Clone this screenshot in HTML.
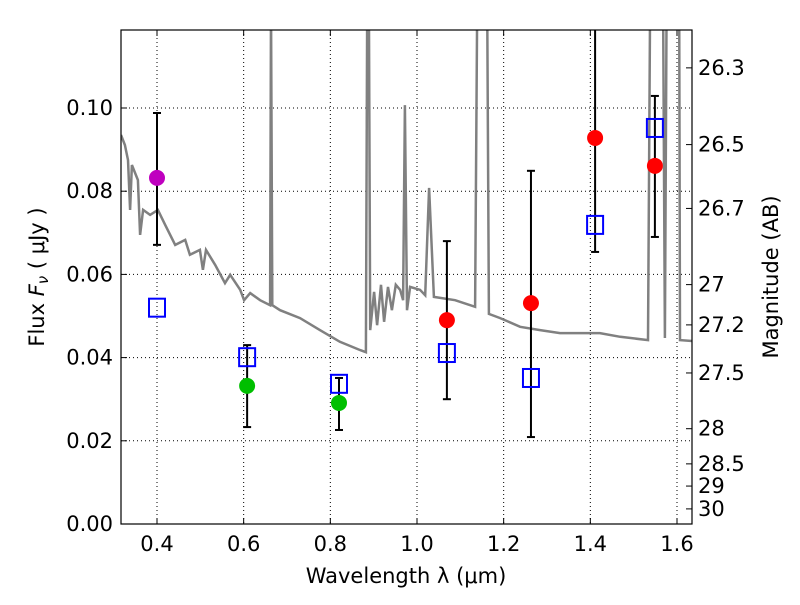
<!DOCTYPE html>
<html><head><meta charset="utf-8"><style>
body{margin:0;background:#fff;font-family:"Liberation Sans","DejaVu Sans",sans-serif}
svg text{font-family:"DejaVu Sans","Liberation Sans",sans-serif;font-size:21px;fill:#000}
</style></head><body>
<svg id="chart" width="800" height="600" xmlns="http://www.w3.org/2000/svg">
<defs><clipPath id="clip"><rect x="121" y="30" width="571" height="494"/></clipPath></defs>
<g id="grid"></g>
<g id="spec" clip-path="url(#clip)"></g>
<g id="pts"></g>
<rect x="121" y="30" width="571" height="494" fill="none" stroke="#000" stroke-width="1.2"/>
<g id="axes"></g>
<text x="406" y="583" text-anchor="middle">Wavelength  λ (μm)</text>
<text transform="translate(44,277) rotate(-90)" text-anchor="middle">Flux  <tspan font-style="italic">F</tspan><tspan font-style="italic" font-size="15" dy="4">ν</tspan><tspan dy="-4">  ( μJy )</tspan></text>
<text transform="translate(778,277) rotate(-90)" text-anchor="middle">Magnitude (AB)</text>
</svg>
<script>
const specLam=[0.317,0.326,0.333,0.338,0.342,0.356,0.361,0.368,0.384,0.402,0.419,0.442,0.465,0.476,0.499,0.506,0.513,0.534,0.557,0.569,0.592,0.601,0.615,0.638,0.661,0.663,0.666,0.684,0.730,0.776,0.822,0.869,0.882,0.885,0.889,0.892,0.901,0.908,0.917,0.924,0.933,0.942,0.951,0.961,0.968,0.972,0.977,0.984,1.007,1.019,1.028,1.039,1.088,1.134,1.139,1.162,1.166,1.192,1.238,1.284,1.330,1.422,1.469,1.533,1.538,1.568,1.572,1.576,1.605,1.607,1.635];
const specFlux=[0.0935,0.0911,0.0875,0.0755,0.0863,0.0827,0.0695,0.0755,0.0743,0.0755,0.0719,0.0671,0.0683,0.0647,0.0659,0.0611,0.0659,0.0623,0.0579,0.0599,0.0563,0.0538,0.0555,0.0538,0.0526,0.125,0.0526,0.0514,0.0495,0.0466,0.0438,0.0418,0.0413,0.125,0.125,0.0466,0.0558,0.0478,0.0575,0.0486,0.0570,0.0514,0.0575,0.0563,0.0538,0.1007,0.0514,0.0570,0.0563,0.0550,0.0808,0.0546,0.0538,0.0522,0.125,0.125,0.0505,0.0495,0.0474,0.0466,0.0459,0.0459,0.0450,0.0442,0.125,0.125,0.0447,0.125,0.125,0.0442,0.0440];
const circLam=[0.400,0.608,0.820,1.069,1.263,1.411,1.549];
const circFlux=[0.0832,0.0332,0.0291,0.049,0.0531,0.0928,0.0861];
const circColor=["#bf00bf","#00bf00","#00bf00","#ff0000","#ff0000","#ff0000","#ff0000"];
const sqLam=[0.400,0.608,0.820,1.069,1.263,1.411,1.549];
const sqFlux=[0.052,0.0401,0.0337,0.0411,0.0351,0.0719,0.0952];
const errLam=[0.400,0.608,0.820,1.069,1.263,1.411,1.549];
const errHi=[0.0988,0.043,0.0351,0.068,0.0849,0.125,0.1029];
const errLo=[0.0671,0.0233,0.0226,0.030,0.0209,0.0654,0.069];
const xTicks=[0.4,0.6,0.8,1.0,1.2,1.4,1.6];
const xTickLabels=["0.4","0.6","0.8","1.0","1.2","1.4","1.6"];
const yTicks=[0,0.02,0.04,0.06,0.08,0.10];
const yTickLabels=["0.00","0.02","0.04","0.06","0.08","0.10"];
const magTicks=[26.3,26.5,26.7,27,27.2,27.5,28,28.5,29,30];
const magLabels=["26.3","26.5","26.7","27","27.2","27.5","28","28.5","29","30"];
const X=l=>157+(l-0.4)*433.33, Y=f=>524-f*4160;
const NS="http://www.w3.org/2000/svg";
function mk(p,t,a){const e=document.createElementNS(NS,t);for(const k in a)e.setAttribute(k,a[k]);p.appendChild(e);return e;}
const grid=document.getElementById('grid'),axes=document.getElementById('axes');
xTicks.forEach((v,i)=>{const x=X(v);
 const g=mk(grid,'line',{x1:x,x2:x,y1:30,y2:524,stroke:'#000','stroke-dasharray':'1,3','stroke-width':1});
 
 mk(axes,'line',{x1:x,x2:x,y1:524,y2:518,stroke:'#000'});mk(axes,'line',{x1:x,x2:x,y1:30,y2:36,stroke:'#000'});
 const t=mk(axes,'text',{x:x,y:551,'text-anchor':'middle'});t.textContent=xTickLabels[i];
 });
yTicks.forEach((v,i)=>{const y=Y(v);
 const g=mk(grid,'line',{x1:121,x2:692,y1:y,y2:y,stroke:'#000','stroke-dasharray':'1,3','stroke-width':1});
 
 mk(axes,'line',{x1:121,x2:127,y1:y,y2:y,stroke:'#000'});
 const t=mk(axes,'text',{x:113,y:y+7,'text-anchor':'end'});t.textContent=yTickLabels[i];
 });
magTicks.forEach((m,i)=>{const y=Y(Math.pow(10,(23.9-m)/2.5));
 mk(axes,'line',{x1:692,x2:686,y1:y,y2:y,stroke:'#000'});
 const t=mk(axes,'text',{x:698,y:y+7});t.textContent=magLabels[i];
 });
const sp=document.getElementById('spec');
const path=mk(sp,'polyline',{points:specLam.map((l,i)=>X(l).toFixed(1)+','+Y(specFlux[i]).toFixed(1)).join(' '),fill:'none',stroke:'#808080','stroke-width':2.5});

const pts=document.getElementById('pts');
errLam.forEach((l,i)=>{const x=X(l),y1=Math.max(Y(errHi[i]),30),y2=Y(errLo[i]);
 const e=mk(pts,'g',{stroke:'#000','stroke-width':2});
 
 mk(e,'line',{x1:x,x2:x,y1:y1,y2:y2});
 if(Y(errHi[i])>30)mk(e,'line',{x1:x-4,x2:x+4,y1:y1,y2:y1});
 mk(e,'line',{x1:x-4,x2:x+4,y1:y2,y2:y2});});
circLam.forEach((l,i)=>{const c=mk(pts,'circle',{cx:X(l),cy:Y(circFlux[i]),r:8,fill:circColor[i]});
 });
sqLam.forEach((l,i)=>{const s=mk(pts,'rect',{x:X(l)-8,y:Y(sqFlux[i])-9,width:16,height:18,fill:'none',stroke:'#0000ff','stroke-width':2});
 });
</script>
</body></html>
